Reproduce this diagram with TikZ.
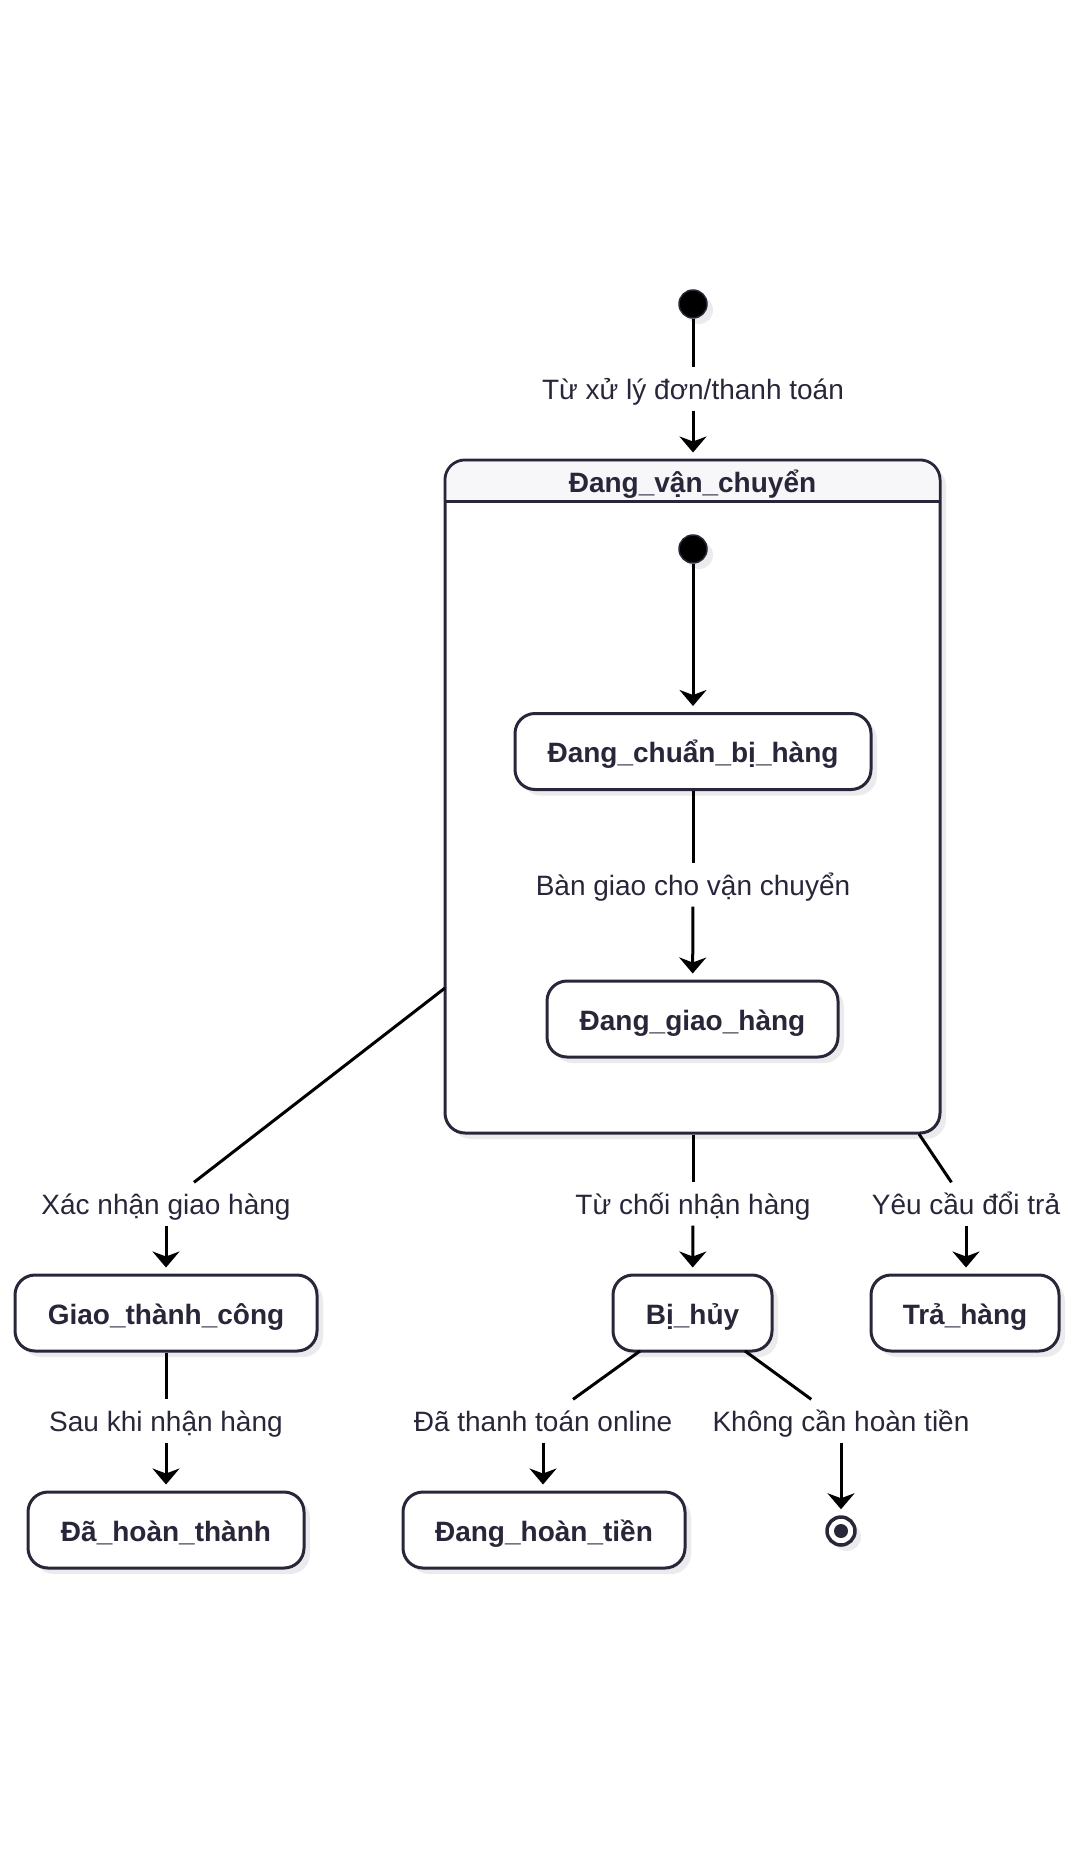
\documentclass[tikz,border=0pt]{standalone}
\usepackage{fontspec}
\setmainfont{Liberation Sans}
\usetikzlibrary{arrows.meta,shadows}
\definecolor{ink}{HTML}{28273A}
\definecolor{headfill}{HTML}{F7F7F9}
\definecolor{shade}{HTML}{EBEBED}

\begin{document}
\begin{tikzpicture}[x=1pt,y=-1pt,
  font=\fontsize{28}{34}\selectfont,
  shadowed/.style={drop shadow={shadow xshift=6pt,shadow yshift=-6pt,fill=shade,opacity=1}},
  boldtext/.style={text=ink, font=\fontsize{28}{34}\selectfont\bfseries, text height=28pt, text depth=6pt},
  stbox/.style={draw=ink, line width=3pt, rounded corners=20pt, fill=white,
    boldtext, inner sep=0pt, minimum height=76pt, shadowed},
  lbl/.style={text=ink, inner xsep=4pt, inner ysep=5.5pt, text height=26pt, text depth=6pt},
  initdot/.style={circle, fill=black, draw=ink, line width=1.5pt, minimum size=28pt, inner sep=0pt, shadowed},
  conn/.style={draw=black, line width=3pt},
  arr/.style={conn, -{Stealth[length=16pt,width=27pt,inset=5pt]}, shorten >=6pt}
]
\useasboundingbox (0,0) rectangle (1076,1860);

% composite state
\node[draw=ink, line width=3pt, rounded corners=20pt, fill=white, inner sep=0pt,
      minimum width=495pt, minimum height=673pt, shadowed] (comp) at (692.5,796.5) {};
\fill[headfill, rounded corners=18.5pt] (446.5,501) -- (446.5,461.5) -- (938.5,461.5) -- (938.5,501);
\draw[ink, line width=3pt] (445,501) -- (940,501);
\node[boldtext] (comptitle) at (692.5,481) {Đang\_vận\_chuyển};

% pseudo states
\node[initdot] (i1) at (693,304) {};
\node[initdot] (i2) at (693,549) {};
\node[circle, draw=ink, line width=3.5pt, fill=white, minimum size=28pt, inner sep=0pt, shadowed] (fin) at (841,1531) {};
\fill[ink] (fin.center) circle (7pt);

% states
\node[stbox, minimum width=356pt] (prep) at (693,751.5) {Đang\_chuẩn\_bị\_hàng};
\node[stbox, minimum width=291pt] (ship) at (692.5,1019) {Đang\_giao\_hàng};
\node[stbox, minimum width=302pt] (ok) at (166,1313) {Giao\_thành\_công};
\node[stbox, minimum width=276pt] (done) at (166,1530) {Đã\_hoàn\_thành};
\node[stbox, minimum width=159pt] (cancel) at (692.5,1313) {Bị\_hủy};
\node[stbox, minimum width=188pt] (ret) at (965,1313) {Trả\_hàng};
\node[stbox, minimum width=282pt] (refund) at (544,1530) {Đang\_hoàn\_tiền};

% transition labels
\node[lbl] (l0) at (693,389) {Từ xử lý đơn/thanh toán};
\node[lbl] (l1) at (693,885) {Bàn giao cho vận chuyển};
\node[lbl] (lok) at (166,1204) {Xác nhận giao hàng};
\node[lbl] (lcancel) at (693,1204) {Từ chối nhận hàng};
\node[lbl] (lret) at (966,1204) {Yêu cầu đổi trả};
\node[lbl] (ldone) at (166,1421) {Sau khi nhận hàng};
\node[lbl] (lrefund) at (543,1421) {Đã thanh toán online};
\node[lbl] (lend) at (841,1421) {Không cần hoàn tiền};

% exit points on borders
\coordinate (compL) at (445,988);
\coordinate (compR) at (919,1134);
\coordinate (cancelL) at (640,1351);
\coordinate (cancelR) at (745,1351);

% transitions
\draw[conn] (i1) -- (l0);
\draw[arr] (l0) -- (comp.north -| l0);
\draw[arr] (i2) -- (prep);
\draw[conn] (prep) -- (l1);
\draw[arr] (l1) -- (ship);
\draw[conn] (compL) -- (lok);
\draw[arr] (lok) -- (ok);
\draw[conn] (comp.south -| lcancel) -- (lcancel);
\draw[arr] (lcancel) -- (cancel);
\draw[conn] (compR) -- (lret);
\draw[arr] (lret) -- (ret.north -| lret);
\draw[conn] (ok) -- (ldone);
\draw[arr] (ldone) -- (done);
\draw[conn] (cancelL) -- (lrefund);
\draw[arr] (lrefund) -- (refund.north -| lrefund);
\draw[conn] (cancelR) -- (lend);
\draw[arr] (lend) -- (fin);
\end{tikzpicture}
\end{document}
